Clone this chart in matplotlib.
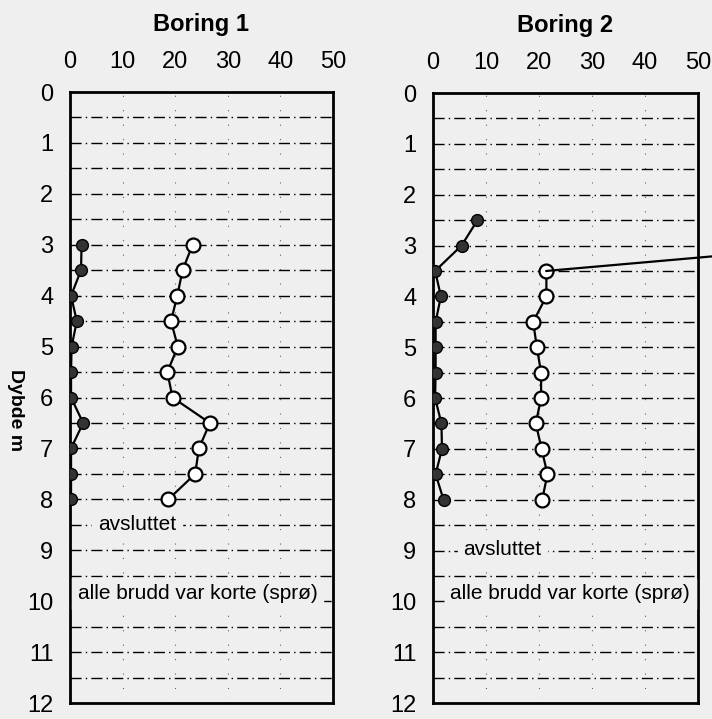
import numpy as np
import matplotlib
matplotlib.use("Agg")
import matplotlib.pyplot as plt

plt.rcParams['font.family'] = ['Liberation Sans', 'DejaVu Sans']

# Boring 1
depth1 = [3, 3.5, 4, 4.5, 5, 5.5, 6, 6.5, 7, 7.5, 8]
filled1 = [2.2, 2.1, 0.2, 1.3, 0.3, 0.2, 0.2, 2.5, 0.2, 0.2, 0.2]
open1 = [23.3, 21.4, 20.4, 19.2, 20.5, 18.5, 19.5, 26.6, 24.5, 23.8, 18.7]

# Boring 2
depth2_filled = [2.5, 3, 3.5, 4, 4.5, 5, 5.5, 6, 6.5, 7, 7.5, 8]
filled2 = [8.4, 5.4, 0.4, 1.5, 0.5, 0.5, 0.5, 0.4, 1.6, 1.7, 0.5, 2.0]
depth2_open = [3, 3.5, 4, 4.5, 5, 5.5, 6, 6.5, 7, 7.5, 8]
open2 = [76, 21.4, 21.4, 18.9, 19.6, 20.4, 20.4, 19.4, 20.5, 21.6, 20.6]

titles = ['Boring 1', 'Boring 2']
xticks = [0, 10, 20, 30, 40, 50]
yticks = list(range(0, 13))

bg = '#efefef'
fig = plt.figure(figsize=(7.12, 7.19), dpi=100, facecolor=bg)
ax1 = fig.add_axes([0.0983, 0.0222, 0.3694, 0.8498])
ax2 = fig.add_axes([0.6081, 0.0222, 0.3722, 0.8484])

def setup(ax, title):
    ax.set_facecolor(bg)
    ax.set_xlim(0, 50)
    ax.set_ylim(12, 0)
    ax.xaxis.tick_top()
    ax.set_xticks(xticks)
    ax.set_yticks(yticks)
    ax.tick_params(length=0, labelsize=17, pad=14)
    ax.tick_params(axis='y', pad=12)
    for s in ax.spines.values():
        s.set_linewidth(2)
    # horizontal dash-dot gridlines every 0.5 m
    for d in np.arange(0.5, 12, 0.5):
        ax.axhline(d, color='black', lw=1.0, ls=(0, (8, 3, 1, 3)), zorder=1)
    for v in [10, 20, 30, 40]:
        ax.axvline(v, color='black', lw=0.8, ls=(0, (1, 12)), alpha=0.6, zorder=1)
    ax.set_title(title, fontsize=17, fontweight='bold', pad=44)

setup(ax1, titles[0])
setup(ax2, titles[1])

ax1.plot(filled1, depth1, '-o', color='black', lw=1.6, ms=8.5,
         mfc='#333333', mec='black', zorder=3)
ax1.plot(open1, depth1, '-o', color='black', lw=1.6, ms=10,
         mfc='white', mec='black', mew=1.6, zorder=3)

ax2.plot(filled2, depth2_filled, '-o', color='black', lw=1.6, ms=8.5,
         mfc='#333333', mec='black', zorder=3)
ax2.plot(open2[1:], depth2_open[1:], '-o', color='black', lw=1.6, ms=10,
         mfc='white', mec='black', mew=1.6, zorder=3)
ax2.plot(open2[:2], depth2_open[:2], '-', color='black', lw=1.6,
         clip_on=False, zorder=3)

ax1.text(5.3, 8.5, 'avsluttet', fontsize=15, va='center', ha='left',
         backgroundcolor=bg, zorder=4)
ax1.text(1.5, 9.85, 'alle brudd var korte (sprø)', fontsize=15, va='center',
         ha='left', backgroundcolor=bg, zorder=4)
ax2.text(5.7, 8.97, 'avsluttet', fontsize=15, va='center', ha='left',
         backgroundcolor=bg, zorder=4)
ax2.text(3.3, 9.85, 'alle brudd var korte (sprø)', fontsize=15, va='center',
         ha='left', backgroundcolor=bg, zorder=4)

ax1.set_ylabel('Dybde m', rotation=-90, fontsize=14, fontweight='bold')
ax1.yaxis.set_label_coords(-0.24, 0.48)

fig.savefig('out.png', dpi=100, facecolor=bg)
